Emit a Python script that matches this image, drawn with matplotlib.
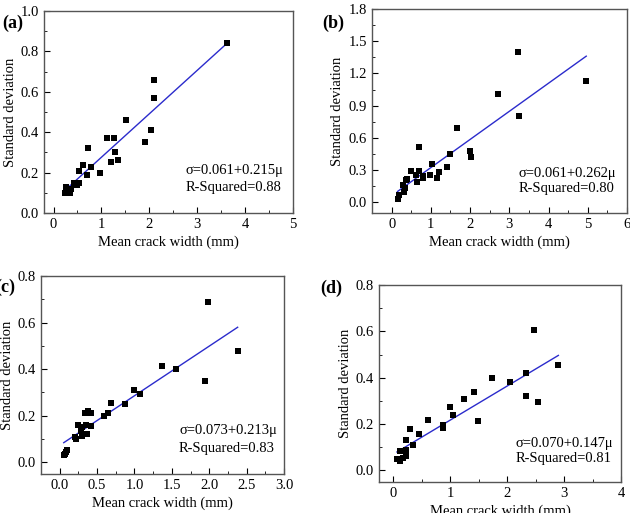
import numpy as np
import matplotlib.pyplot as plt
from matplotlib.ticker import MultipleLocator, AutoMinorLocator

plt.rcParams['font.family'] = ['Liberation Serif', 'DejaVu Serif']
plt.rcParams['font.size'] = 10

# panel (a)
xa = [0.23, 0.25, 0.34, 0.37, 0.43, 0.48, 0.53, 0.53, 0.62, 0.69, 0.72, 0.79,
      0.96, 1.12, 1.19, 1.26, 1.29, 1.34, 1.52, 1.91, 2.03, 2.10, 2.10, 3.63]
ya = [0.10, 0.13, 0.10, 0.12, 0.15, 0.14, 0.15, 0.21, 0.24, 0.19, 0.32, 0.23,
      0.20, 0.37, 0.25, 0.37, 0.30, 0.26, 0.46, 0.35, 0.41, 0.66, 0.57, 0.84]

# panel (b)
xb = [0.15, 0.18, 0.29, 0.32, 0.34, 0.37, 0.40, 0.49, 0.63, 0.64, 0.69, 0.69,
      0.79, 0.81, 0.99, 1.03, 1.16, 1.21, 1.41, 1.48, 1.66, 2.01, 2.03, 2.72,
      3.22, 3.24, 4.96]
yb = [0.034, 0.065, 0.16, 0.10, 0.13, 0.21, 0.22, 0.29, 0.25, 0.19, 0.51, 0.29,
      0.23, 0.24, 0.25, 0.36, 0.23, 0.28, 0.33, 0.45, 0.69, 0.48, 0.42, 1.01,
      1.40, 0.80, 1.13]

# panel (c)
xc = [0.054, 0.07, 0.085, 0.10, 0.20, 0.22, 0.25, 0.28, 0.30, 0.30, 0.34, 0.35,
      0.36, 0.38, 0.42, 0.42, 0.59, 0.65, 0.69, 0.87, 1.00, 1.07, 1.37, 1.56,
      1.95, 1.98, 2.38]
yc = [0.030, 0.037, 0.044, 0.053, 0.109, 0.10, 0.16, 0.135, 0.152, 0.115, 0.21, 0.16,
      0.12, 0.22, 0.21, 0.155, 0.20, 0.21, 0.255, 0.25, 0.31, 0.295, 0.415, 0.40,
      0.35, 0.69, 0.48]

# panel (d)
xd = [0.065, 0.12, 0.12, 0.17, 0.22, 0.22, 0.23, 0.29, 0.35, 0.46, 0.61, 0.87,
      0.88, 0.99, 1.05, 1.25, 1.42, 1.48, 1.73, 2.05, 2.33, 2.33, 2.48, 2.54, 2.90]
yd = [0.049, 0.040, 0.085, 0.055, 0.13, 0.089, 0.063, 0.177, 0.108, 0.159, 0.219, 0.195,
      0.185, 0.274, 0.238, 0.308, 0.34, 0.212, 0.40, 0.38, 0.323, 0.42, 0.605, 0.295, 0.453]

panels = [
    dict(x=xa, y=ya, a=0.061, b=0.215, r2="0.88", tag="(a)",
         xlim=(-0.2, 5), ylim=(0, 1.0), xt=1, yt=0.2,
         rect=[0.0698, 0.5848, 0.3952, 0.3938], txt=(0.57, 0.208, 0.124),
         tagpos=(0.003, 0.955)),
    dict(x=xb, y=yb, a=0.061, b=0.262, r2="0.80", tag="(b)",
         xlim=(-0.5, 6), ylim=(-0.1, 1.8), xt=1, yt=0.3,
         rect=[0.5905, 0.5848, 0.4048, 0.3977], txt=(0.576, 0.196, 0.118),
         tagpos=(0.511, 0.955)),
    dict(x=xc, y=yc, a=0.073, b=0.213, r2="0.83", tag="(c)",
         xlim=(-0.25, 3), ylim=(-0.05, 0.8), xt=0.5, yt=0.2,
         rect=[0.0651, 0.0760, 0.3857, 0.3860], txt=(0.568, 0.222, 0.131),
         tagpos=(-0.008, 0.44)),
    dict(x=xd, y=yd, a=0.070, b=0.147, r2="0.81", tag="(d)",
         xlim=(-0.25, 4), ylim=(-0.05, 0.8), xt=1, yt=0.2,
         rect=[0.6016, 0.0604, 0.3841, 0.3840], txt=(0.566, 0.193, 0.117),
         tagpos=(0.509, 0.438)),
]

fig = plt.figure(figsize=(6.3, 5.13), dpi=100)

for p in panels:
    ax = fig.add_axes(p["rect"])
    ax.scatter(p["x"], p["y"], marker='s', s=22, color='black', zorder=3, linewidths=0)
    xs = np.array([min(p["x"]), max(p["x"])])
    ax.plot(xs, p["a"] + p["b"] * xs, color='#2b2bcc', lw=1.0, zorder=2)
    ax.set_xlim(*p["xlim"])
    ax.set_ylim(*p["ylim"])
    ax.xaxis.set_major_locator(MultipleLocator(p["xt"]))
    ax.yaxis.set_major_locator(MultipleLocator(p["yt"]))
    ax.xaxis.set_minor_locator(AutoMinorLocator(2))
    ax.yaxis.set_minor_locator(AutoMinorLocator(2))
    if p["tag"] == "(c)":
        ax.xaxis.set_major_formatter(plt.FuncFormatter(lambda v, pos: f"{v:.1f}"))
    else:
        ax.xaxis.set_major_formatter(plt.FuncFormatter(lambda v, pos: f"{v:.0f}"))
    ax.yaxis.set_major_formatter(plt.FuncFormatter(lambda v, pos: f"{v:.1f}"))
    ax.tick_params(which='both', direction='in', top=False, right=False, labelsize=10.5)
    ax.tick_params(which='major', length=4, width=0.8)
    ax.tick_params(which='minor', length=2, width=0.6)
    for s in ax.spines.values():
        s.set_color('#555555')
        s.set_linewidth(1.0)
    ax.set_xlabel("Mean crack width (mm)", fontsize=10.5, labelpad=3)
    ax.set_ylabel("Standard deviation", fontsize=10.5, labelpad=3)
    tx, ty1, ty2 = p["txt"]
    ax.text(tx, ty1, f"σ={p['a']:.3f}+{p['b']:.3f}μ", transform=ax.transAxes,
            fontsize=10.5, va='center', ha='left')
    ax.text(tx, ty2, f"R-Squared={p['r2']}", transform=ax.transAxes,
            fontsize=10.5, va='center', ha='left')
    fig.text(p["tagpos"][0], p["tagpos"][1], p["tag"], fontsize=13,
             fontweight='bold', va='center', ha='left')

fig.savefig("out.png", dpi=100)
